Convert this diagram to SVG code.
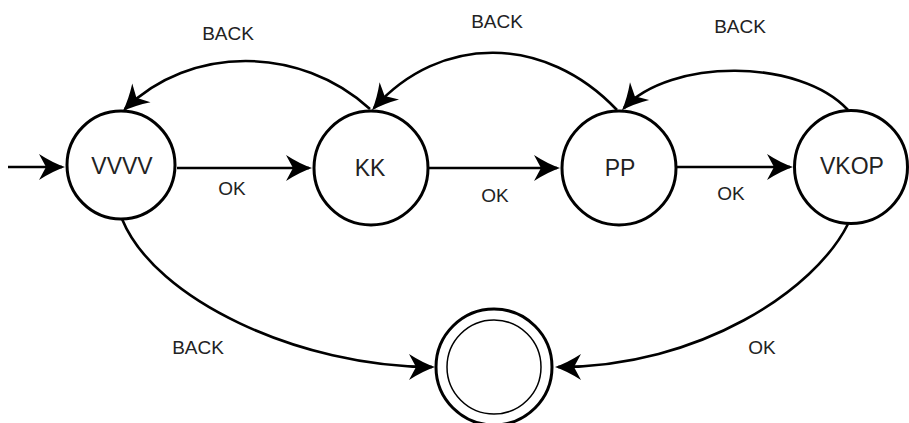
<svg xmlns="http://www.w3.org/2000/svg" width="909" height="423" viewBox="0 0 909 423">
  <style>
    .node { fill: #ffffff; stroke: #000000; stroke-width: 3; }
    .inner { fill: none; stroke: #000000; stroke-width: 1.5; }
    .edge { fill: none; stroke: #000000; stroke-width: 2.6; marker-end: url(#arrow); }
    .nlabel { font-family: "Liberation Sans", Arial, sans-serif; font-size: 23px; fill: #222222; text-anchor: middle; }
    .elabel { font-family: "Liberation Sans", Arial, sans-serif; font-size: 19px; fill: #222222; text-anchor: middle; }
  </style>
  <defs>
    <marker id="arrow" markerUnits="userSpaceOnUse" orient="auto" viewBox="-30 -16 34 32" markerWidth="34" markerHeight="32" refX="-3" refY="0">
      <path d="M0,0 Q-12,-4 -26,-13 L-19,0 L-26,13 Q-12,4 0,0 Z" fill="#000000"/>
    </marker>
  </defs>
  <rect width="909" height="423" fill="#ffffff"/>

  <g id="connectors">
    <path class="edge" d="M8,167 L62,167"/>
    <path class="edge" d="M177,168 L309,168"/>
    <path class="edge" d="M428,168 L557,168"/>
    <path class="edge" d="M676,167 L790,167"/>
    <path class="edge" d="M370,109 C300,45 190,45 125,109"/>
    <path class="edge" d="M617,110 C545,34 440,34 374,108"/>
    <path class="edge" d="M848,110 C800,58 670,58 624,108"/>
    <path class="edge" d="M122,219 C155,300 300,367 432,367"/>
    <path class="edge" d="M848,224 C815,290 700,367 558,367"/>
    <text class="elabel" x="232" y="195">OK</text>
    <text class="elabel" x="495" y="202">OK</text>
    <text class="elabel" x="731" y="200">OK</text>
    <text class="elabel" x="228" y="40">BACK</text>
    <text class="elabel" x="497" y="28">BACK</text>
    <text class="elabel" x="740" y="33">BACK</text>
    <text class="elabel" x="198" y="354">BACK</text>
    <text class="elabel" x="762" y="354">OK</text>
  </g>

  <g id="node-vvvv">
    <circle class="node" cx="121" cy="165" r="54"/>
    <text class="nlabel" x="122" y="174">VVVV</text>
  </g>
  <g id="node-kk">
    <circle class="node" cx="371" cy="168" r="57"/>
    <text class="nlabel" x="370" y="176">KK</text>
  </g>
  <g id="node-pp">
    <circle class="node" cx="619" cy="168" r="57"/>
    <text class="nlabel" x="620" y="176">PP</text>
  </g>
  <g id="node-vkop">
    <circle class="node" cx="851" cy="167" r="56.5"/>
    <text class="nlabel" x="852" y="174">VKOP</text>
  </g>
  <g id="node-final">
    <circle class="node" cx="494" cy="367" r="58"/>
    <circle class="inner" cx="494" cy="367" r="47"/>
  </g>
</svg>
